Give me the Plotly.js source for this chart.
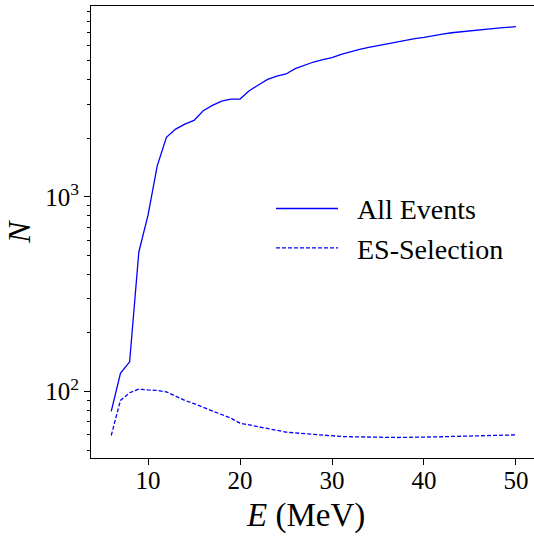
<!DOCTYPE html>
<html>
<head>
<meta charset="utf-8">
<script src="https://cdn.plot.ly/plotly-3.0.1.min.js"></script>
<style>html,body{margin:0;padding:0;background:#fff;}#chart{width:534px;height:536px;}</style>
</head>
<body>
<div id="chart"></div>
<script>
// Energy (MeV)
const energy = [6,7,8,9,10,11,12,13,14,15,16,17,18,19,20,21,22,23,24,25,26,27,28,29,30,31,32,33,34,35,36,37,38,39,40,41,42,43,44,45,46,47,48,49,50];
// All Events
const allEvents = [79,124,142,521,805,1444,2022,2230,2366,2472,2772,2953,3108,3183,3183,3512,3757,4019,4178,4281,4560,4745,4934,5070,5190,5403,5570,5728,5866,5987,6142,6291,6404,6514,6610,6757,6859,6974,7060,7130,7210,7300,7365,7430,7500];
// ES-Selection
const esSelection = [59.4,89.9,98.5,102.8,101.8,101.2,99.5,94.3,90,86.5,83,79.8,76.6,72.9,68.7,67.3,66,64.7,63.3,61.8,61.2,60.6,60,59.4,58.9,58.7,58.5,58.3,58.1,58.0,58.0,58.0,58.1,58.1,58.2,58.4,58.5,58.7,58.8,59.0,59.2,59.4,59.5,59.7,59.8];
// Tick labels
const xTickVals = [10,20,30,40,50];
const yTickVals = [100,1000];
const yTickText = ['10<sup>2</sup>','10<sup>3</sup>'];
const yMinorVals = [50,60,70,80,90,200,300,400,500,600,700,800,900,2000,3000,4000,5000,6000,7000,8000,9000];
const seriesNames = ['\u00a0\u00a0All Events', '\u00a0\u00a0ES-Selection'];

const serif = '"Liberation Serif", "DejaVu Serif", serif';

const traces = [
  {x: energy, y: allEvents, type: 'scatter', mode: 'lines', name: seriesNames[0], legendgroup: 'a',
   line: {color: '#0000ff', width: 1.3}},
  {x: energy, y: esSelection, type: 'scatter', mode: 'lines', name: seriesNames[1], legendgroup: 'b',
   line: {color: '#0000ff', width: 1.3, dash: '4px,2px'}}
];

const layout = {
  width: 534, height: 536,
  margin: {l: 91, r: 0, t: 6, b: 78},
  paper_bgcolor: '#fff', plot_bgcolor: '#fff',
  font: {family: serif, color: '#000', size: 25},
  showlegend: true,
  legend: {x: 0.4063, y: 0.6066, xanchor: 'left', yanchor: 'top', bgcolor: 'rgba(0,0,0,0)',
           font: {family: serif, size: 28, color: '#000'}, tracegroupgap: 0, itemwidth: 62},
  xaxis: {range: [3.8, 51.96], showline: true, linecolor: '#000', linewidth: 1, mirror: true,
          ticks: 'outside', ticklen: 6, tickwidth: 1, tickcolor: '#000', tickvals: xTickVals,
          ticklabelstandoff: -6,
          showgrid: false, zeroline: false, tickfont: {family: serif, size: 25, color: '#000'}},
  yaxis: {type: 'log', range: [1.658, 3.981], showline: true, linecolor: '#000', linewidth: 1,
          ticks: 'outside', ticklen: 6, tickwidth: 1, tickcolor: '#000',
          tickmode: 'array', tickvals: yTickVals, ticktext: yTickText,
          minor: {ticks: 'outside', ticklen: 3.5, tickwidth: 1, tickcolor: '#000', tickvals: yMinorVals, showgrid: false},
          showgrid: false, zeroline: false, tickfont: {family: serif, size: 25, color: '#000'}},
  annotations: [
    {text: '<i>E</i> (MeV)', xref: 'paper', yref: 'paper', x: 0.4842, y: -0.128, xanchor: 'center', yanchor: 'middle',
     showarrow: false, font: {family: serif, size: 33, color: '#000'}},
    {text: '<i>N</i>', xref: 'paper', yref: 'paper', x: -0.1625, y: 0.5, xanchor: 'center', yanchor: 'middle',
     textangle: -90, showarrow: false, font: {family: serif, size: 32, color: '#000'}}
  ]
};

Plotly.newPlot('chart', traces, layout, {displayModeBar: false, staticPlot: true});
</script>
</body>
</html>
